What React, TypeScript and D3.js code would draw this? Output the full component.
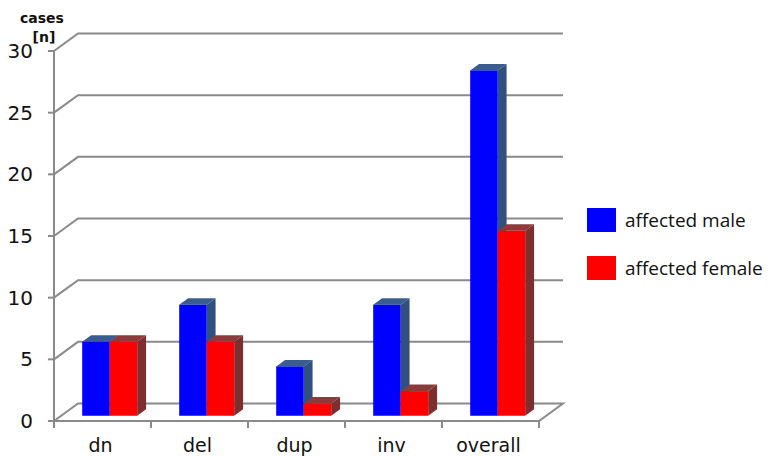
import React from "react";
import * as d3 from "d3";

const categories = ["dn", "del", "dup", "inv", "overall"];
const maleValues = [6, 9, 4, 9, 28];
const femaleValues = [6, 6, 1, 2, 15];
const yTicks = [0, 5, 10, 15, 20, 25, 30];
const seriesNames = ["affected male", "affected female"];

const W = 769;
const H = 457;
const x0 = 54;
const x1 = 539;
const yTop = 51;
const yBottom = 421;
// full depth of the floor/back wall
const DX = 24;
const DY = -17.5;

const series = [
  { name: seriesNames[0], values: maleValues, front: "#0000ff", side: "#2f5080", top: "#3a5d8f" },
  { name: seriesNames[1], values: femaleValues, front: "#ff0000", side: "#7d2e2e", top: "#8e3a3a" },
];

export default function App() {
  const y = d3.scaleLinear().domain([0, 30]).range([yBottom, yTop]);
  const x = d3.scaleBand<string>().domain(categories).range([x0, x1]);
  const band = x.bandwidth();
  const barW = 27.5;
  const offsetFront = 21; // pair start inside a band, measured on the front plane
  const dz0 = 0.3; // bar front face depth fraction
  const dzBar = 0.37; // bar depth fraction
  const gridStroke = "#8a8a8a";

  const bars: React.ReactNode[] = [];
  categories.forEach((c, ci) => {
    series.forEach((s, si) => {
      const v = s.values[ci];
      const bx = (x(c) as number) + offsetFront + si * barW + DX * dz0;
      const by0 = y(0) + DY * dz0;
      const by1 = y(v) + DY * dz0;
      const ddx = DX * dzBar;
      const ddy = DY * dzBar;
      bars.push(
        <g key={`${c}-${si}`}>
          <polygon
            points={`${bx + barW},${by1} ${bx + barW + ddx},${by1 + ddy} ${bx + barW + ddx},${by0 + ddy} ${bx + barW},${by0}`}
            fill={s.side}
          />
          <polygon
            points={`${bx},${by1} ${bx + ddx},${by1 + ddy} ${bx + barW + ddx},${by1 + ddy} ${bx + barW},${by1}`}
            fill={s.top}
          />
          <rect x={bx} y={by1} width={barW} height={by0 - by1} fill={s.front} />
        </g>
      );
    });
  });

  return (
    <svg
      width={W}
      height={H}
      style={{ position: "absolute", left: 0, top: 0, background: "#fff" }}
      fontFamily="DejaVu Sans, Verdana, sans-serif"
    >
      {/* back wall grid lines */}
      {yTicks
        .filter((t) => t > 0)
        .map((t) => (
          <polyline
            key={`g${t}`}
            points={`${x0},${y(t)} ${x0 + DX},${y(t) + DY} ${x1 + DX},${y(t) + DY}`}
            fill="none"
            stroke={gridStroke}
            strokeWidth={2}
          />
        ))}
      {/* floor */}
      <polygon
        points={`${x0},${y(0)} ${x0 + DX},${y(0) + DY} ${x1 + DX},${y(0) + DY} ${x1},${y(0)}`}
        fill="none"
        stroke={gridStroke}
        strokeWidth={2}
      />
      {/* value axis */}
      <line x1={x0} x2={x0} y1={yTop} y2={yBottom} stroke={gridStroke} strokeWidth={2} />
      {yTicks.map((t) => (
        <g key={`t${t}`}>
          <line x1={x0 - 6} x2={x0} y1={y(t)} y2={y(t)} stroke={gridStroke} strokeWidth={2} />
          <text x={33} y={y(t)} dy="0.35em" textAnchor="end" fontSize={20} fill="#111">
            {t}
          </text>
        </g>
      ))}
      {/* category ticks */}
      {[...categories.map((c) => x(c) as number), x1].map((px, i) => (
        <line key={`c${i}`} x1={px} x2={px} y1={y(0)} y2={y(0) + 7} stroke={gridStroke} strokeWidth={2} />
      ))}
      {categories.map((c) => (
        <text
          key={`l${c}`}
          x={(x(c) as number) + band / 2 - 2}
          y={452}
          textAnchor="middle"
          fontSize={19}
          fill="#111"
        >
          {c}
        </text>
      ))}
      {bars}
      {/* axis title */}
      <text x={42} y={23} textAnchor="middle" fontSize={14} fontWeight="bold" fill="#111">
        cases
      </text>
      <text x={44} y={42} textAnchor="middle" fontSize={14} fontWeight="bold" fill="#111">
        [n]
      </text>
      {/* legend */}
      {series.map((s, i) => (
        <g key={`lg${i}`} transform={`translate(587, ${208 + i * 48})`}>
          <rect width={29} height={24} fill={s.front} />
          <text x={38} y={12} dy="0.35em" fontSize={19} fill="#111" fontFamily="Open Sans, sans-serif">
            {s.name}
          </text>
        </g>
      ))}
    </svg>
  );
}
